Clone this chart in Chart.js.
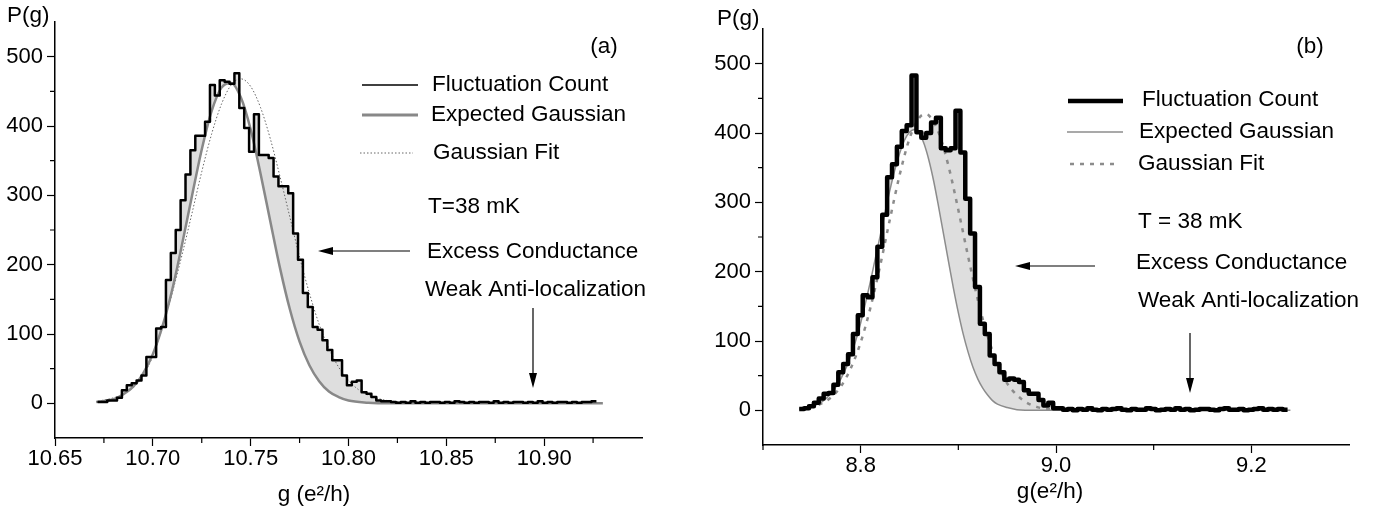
<!DOCTYPE html>
<html>
<head>
<meta charset="utf-8">
<script src="https://cdn.jsdelivr.net/npm/chart.js@4.4.1/dist/chart.umd.min.js"></script>
<style>
  body { margin: 0; background: #fff; }
  canvas { position: absolute; top: 0; }
</style>
</head>
<body>
<canvas id="panelA" width="690" height="506" style="left:0"></canvas>
<canvas id="panelB" width="689" height="506" style="left:690px"></canvas>
<script>
// ---- panel (a) data ----
const aBinStart = 10.6717;
const aBinWidth = 0.0025;
const aCounts = [
  2, 2, 4, 4, 8, 19, 26, 29, 33, 40,
  67, 67, 108, 110, 178, 217, 250, 293, 330, 365,
  386, 386, 406, 459, 444, 466, 464, 461, 476, 426,
  397, 363, 417, 358, 358, 354, 327, 313, 313, 303,
  245, 207, 159, 139, 110, 106, 91, 77, 62, 62,
  40, 26, 31, 33, 16, 14, 9, 4, 3, 3,
  2, 1, 2, 1, 3, 1, 2, 1, 2, 2,
  1, 2, 1, 3, 2, 1, 2, 1, 2, 2,
  1, 3, 1, 2, 1, 2, 2, 1, 2, 1,
  3, 1, 2, 1, 2, 2, 1, 2, 1, 2,
  2, 3
];
const aExpG = [10.671, 10.68, 10.685, 10.69, 10.695, 10.70, 10.705, 10.71, 10.715, 10.72,
  10.725, 10.73, 10.735, 10.74, 10.745, 10.75, 10.755, 10.76, 10.765, 10.77,
  10.775, 10.78, 10.785, 10.79, 10.795, 10.80, 10.81, 10.82, 10.93];
const aExpP = [2, 6, 13, 24, 43, 71, 112, 165, 230, 299,
  366, 421, 455, 462, 441, 395, 332, 263, 195, 136,
  89, 55, 32, 17, 9, 4, 1, 0, 0];
const aFitG = [10.672, 10.68, 10.685, 10.69, 10.695, 10.70, 10.705, 10.71, 10.715, 10.72,
  10.725, 10.73, 10.735, 10.74, 10.745, 10.75, 10.755, 10.76, 10.765, 10.77,
  10.775, 10.78, 10.785, 10.79, 10.795, 10.80, 10.805, 10.81, 10.815, 10.82,
  10.83, 10.84, 10.925];
const aFitP = [3, 8, 13, 23, 40, 68, 110, 160, 215, 274,
  334, 388, 431, 459, 468, 457, 427, 382, 327, 269,
  211, 159, 114, 79, 52, 33, 20, 12, 7, 4,
  1, 0, 0];
const aXTicks = [10.65, 10.70, 10.75, 10.80, 10.85, 10.90];
const aXMinor = [10.675, 10.725, 10.775, 10.825, 10.875, 10.925];

// ---- panel (b) data ----
const bBinStart = 8.7371;
const bBinWidth = 0.005;
const bCounts = [
  2, 3, 6, 11, 17, 24, 25, 37, 55, 67,
  81, 110, 137, 166, 163, 192, 236, 282, 336, 355,
  380, 403, 411, 483, 401, 393, 400, 415, 422, 378,
  375, 378, 432, 372, 305, 255, 178, 125, 110, 79,
  67, 55, 44, 46, 44, 41, 29, 24, 24, 15,
  7, 11, 3, 3, 1, 2, 0, 2, 1, 3,
  1, 0, 2, 1, 2, 3, 1, 0, 2, 1,
  1, 3, 2, 0, 1, 2, 1, 3, 1, 2,
  0, 1, 2, 2, 1, 0, 2, 3, 1, 1,
  2, 0, 1, 2, 3, 1, 2, 1, 2, 1
];
const bExpG = [8.737, 8.75, 8.76, 8.77, 8.78, 8.79, 8.80, 8.81, 8.815, 8.82,
  8.825, 8.83, 8.835, 8.84, 8.845, 8.85, 8.855, 8.86, 8.865, 8.87,
  8.875, 8.88, 8.885, 8.89, 8.895, 8.90, 8.905, 8.91, 8.915, 8.92,
  8.925, 8.93, 8.935, 8.94, 8.95, 8.96, 8.98, 9.24];
const bExpP = [2, 6, 12, 25, 46, 79, 126, 186, 219, 252,
  286, 318, 347, 371, 390, 401, 405, 400, 384, 360,
  329, 292, 253, 214, 176, 141, 110, 84, 62, 45,
  32, 22, 14, 9, 4, 1, 0, 0];
const bFitG = [8.737, 8.75, 8.76, 8.77, 8.78, 8.79, 8.80, 8.81, 8.82, 8.83,
  8.84, 8.85, 8.86, 8.866, 8.87, 8.88, 8.89, 8.90, 8.91, 8.92,
  8.93, 8.94, 8.95, 8.96, 8.97, 8.98, 8.99, 9.00];
const bFitP = [2, 5, 10, 19, 35, 61, 98, 148, 209, 276,
  340, 392, 422, 427, 425, 400, 352, 289, 222, 159,
  107, 67, 39, 22, 11, 5, 2, 1];
const bXTicks = [8.8, 9.0, 9.2];
const bXMinor = [8.7, 8.9, 9.1];

const yTicks = [0, 100, 200, 300, 400, 500];
const yMinor = [50, 150, 250, 350, 450];

const FONT = '"Liberation Sans", Arial, Helvetica, sans-serif';
Chart.defaults.font.family = FONT;
Chart.defaults.color = '#000';

function histPoints(start, width, counts) {
  const pts = counts.map((c, i) => ({ x: start + i * width, y: c }));
  pts.push({ x: start + counts.length * width, y: counts[counts.length - 1] });
  return pts;
}
function curvePoints(xs, ys) {
  return xs.map((x, i) => ({ x: x, y: ys[i] }));
}

// extra drawing per panel: labels, legend samples, arrows, minor ticks
const decor = {
  panelA: {
    xMinor: aXMinor,
    texts: [
      { t: 'P(g)', x: 7, y: 16 },
      { t: '(a)', x: 604, y: 47, align: 'center' },
      { t: 'Fluctuation Count', x: 432, y: 85 },
      { t: 'Expected Gaussian', x: 431, y: 115 },
      { t: 'Gaussian Fit', x: 433, y: 153 },
      { t: 'T=38 mK', x: 428, y: 207 },
      { t: 'Excess Conductance', x: 427, y: 252 },
      { t: 'Weak Anti-localization', x: 425, y: 290 },
      { t: 'g (e\u00b2/h)', x: 314, y: 495, align: 'center' }
    ],
    samples: [
      { x1: 362, x2: 418, y: 85, color: '#000', w: 1.5, dash: [] },
      { x1: 362, x2: 418, y: 115, color: '#888', w: 3, dash: [] },
      { x1: 360, x2: 413, y: 153, color: '#666', w: 1, dash: [1.5, 2] }
    ],
    arrows: [
      { x1: 410, y1: 251, x2: 318, y2: 251 },
      { x1: 533, y1: 308, x2: 533, y2: 388 }
    ]
  },
  panelB: {
    xMinor: bXMinor,
    texts: [
      { t: 'P(g)', x: 27, y: 19 },
      { t: '(b)', x: 620, y: 47, align: 'center' },
      { t: 'Fluctuation Count', x: 452, y: 100 },
      { t: 'Expected Gaussian', x: 449, y: 132 },
      { t: 'Gaussian Fit', x: 448, y: 164 },
      { t: 'T = 38 mK', x: 448, y: 222 },
      { t: 'Excess Conductance', x: 446, y: 263 },
      { t: 'Weak Anti-localization', x: 448, y: 301 },
      { t: 'g(e\u00b2/h)', x: 360, y: 492, align: 'center' }
    ],
    samples: [
      { x1: 378, x2: 433, y: 101, color: '#000', w: 4.5, dash: [] },
      { x1: 377, x2: 433, y: 132, color: '#8c8c8c', w: 1.5, dash: [] },
      { x1: 380, x2: 430, y: 164, color: '#8c8c8c', w: 2.5, dash: [4, 6] }
    ],
    arrows: [
      { x1: 405, y1: 266, x2: 325, y2: 266 },
      { x1: 500, y1: 333, x2: 500, y2: 393 }
    ]
  }
};

function drawArrow(ctx, a) {
  const dx = a.x2 - a.x1, dy = a.y2 - a.y1;
  const len = Math.hypot(dx, dy);
  const ux = dx / len, uy = dy / len;
  const head = 15, half = 4;
  const bx = a.x2 - ux * head, by = a.y2 - uy * head;
  ctx.beginPath();
  ctx.moveTo(a.x1, a.y1);
  ctx.lineTo(bx, by);
  ctx.stroke();
  ctx.beginPath();
  ctx.moveTo(a.x2, a.y2);
  ctx.lineTo(bx - uy * half, by + ux * half);
  ctx.lineTo(bx + uy * half, by - ux * half);
  ctx.closePath();
  ctx.fill();
}

const decorPlugin = {
  id: 'decor',
  afterDraw(chart) {
    const d = decor[chart.canvas.id];
    const ctx = chart.ctx;
    const xs = chart.scales.x, ys = chart.scales.y;
    ctx.save();
    ctx.strokeStyle = '#000';
    ctx.fillStyle = '#000';
    ctx.lineWidth = 1.2;
    // minor ticks
    ctx.beginPath();
    d.xMinor.forEach(v => {
      const px = xs.getPixelForValue(v);
      ctx.moveTo(px, xs.top);
      ctx.lineTo(px, xs.top + 5);
    });
    yMinor.forEach(v => {
      const py = ys.getPixelForValue(v);
      ctx.moveTo(ys.right - 5, py);
      ctx.lineTo(ys.right, py);
    });
    ctx.stroke();
    // legend samples
    d.samples.forEach(s => {
      ctx.save();
      ctx.strokeStyle = s.color;
      ctx.lineWidth = s.w;
      ctx.setLineDash(s.dash);
      ctx.beginPath();
      ctx.moveTo(s.x1, s.y);
      ctx.lineTo(s.x2, s.y);
      ctx.stroke();
      ctx.restore();
    });
    // texts
    ctx.font = '22.5px ' + FONT;
    ctx.textBaseline = 'middle';
    d.texts.forEach(t => {
      ctx.textAlign = t.align || 'left';
      ctx.fillText(t.t, t.x, t.y);
    });
    // arrows
    ctx.lineWidth = 1.2;
    d.arrows.forEach(a => drawArrow(ctx, a));
    ctx.restore();
  }
};

function makePanel(id, p) {
  return new Chart(document.getElementById(id), {
    type: 'line',
    data: {
      datasets: [
        {
          label: 'Fluctuation Count',
          data: histPoints(p.binStart, p.binWidth, p.counts),
          stepped: 'before',
          borderColor: '#000',
          borderWidth: p.histW,
          borderJoinStyle: 'round',
          pointRadius: 0,
          fill: { target: 1, above: '#dedede', below: 'rgba(0,0,0,0)' }
        },
        {
          label: 'Expected Gaussian',
          data: curvePoints(p.expG, p.expP),
          borderColor: p.expColor,
          borderWidth: p.expW,
          cubicInterpolationMode: 'monotone',
          pointRadius: 0,
          fill: false
        },
        {
          label: 'Gaussian Fit',
          data: curvePoints(p.fitG, p.fitP),
          borderColor: p.fitColor,
          borderWidth: p.fitW,
          borderDash: p.fitDash,
          cubicInterpolationMode: 'monotone',
          pointRadius: 0,
          fill: false
        }
      ]
    },
    options: {
      responsive: false,
      animation: false,
      devicePixelRatio: 1,
      layout: { padding: { left: 0, top: p.top, right: p.right, bottom: 0 } },
      plugins: {
        legend: { display: false },
        tooltip: { enabled: false },
        filler: { drawTime: 'beforeDatasetsDraw' }
      },
      scales: {
        x: {
          type: 'linear',
          min: p.xMin,
          max: p.xMax,
          afterBuildTicks: s => { s.ticks = p.xTicks.map(v => ({ value: v })); },
          afterFit: s => { s.height = p.xAxisH; },
          ticks: {
            callback: v => v.toFixed(p.xDigits),
            font: { size: 22 },
            color: '#000',
            padding: 0,
            maxRotation: 0,
            autoSkip: false
          },
          grid: { drawOnChartArea: false, color: '#000', tickLength: 8, tickWidth: 1.2 },
          border: { color: '#000', width: 1.5 }
        },
        y: {
          min: -50,
          max: 550,
          afterBuildTicks: s => { s.ticks = yTicks.map(v => ({ value: v })); },
          afterFit: s => { s.width = p.yAxisW; },
          ticks: {
            callback: v => String(v),
            font: { size: 22 },
            color: '#000',
            padding: 4
          },
          grid: { drawOnChartArea: false, color: '#000', tickLength: 8, tickWidth: 1.2 },
          border: { color: '#000', width: 1.5 }
        }
      }
    },
    plugins: [decorPlugin]
  });
}

makePanel('panelA', {
  binStart: aBinStart, binWidth: aBinWidth, counts: aCounts,
  expG: aExpG, expP: aExpP, fitG: aFitG, fitP: aFitP,
  histW: 2.5, expColor: '#888', expW: 2.5,
  fitColor: '#666', fitW: 1, fitDash: [1.5, 2],
  xMin: 10.65, xMax: 10.95, xTicks: aXTicks, xDigits: 2,
  top: 22, right: 48, xAxisH: 68, yAxisW: 55
});

makePanel('panelB', {
  binStart: bBinStart, binWidth: bBinWidth, counts: bCounts,
  expG: bExpG, expP: bExpP, fitG: bFitG, fitP: bFitP,
  histW: 4.5, expColor: '#8c8c8c', expW: 1.5,
  fitColor: '#8c8c8c', fitW: 2.5, fitDash: [4, 6],
  xMin: 8.7, xMax: 9.3, xTicks: bXTicks, xDigits: 1,
  top: 29, right: 30, xAxisH: 61, yAxisW: 73
});
</script>
</body>
</html>
